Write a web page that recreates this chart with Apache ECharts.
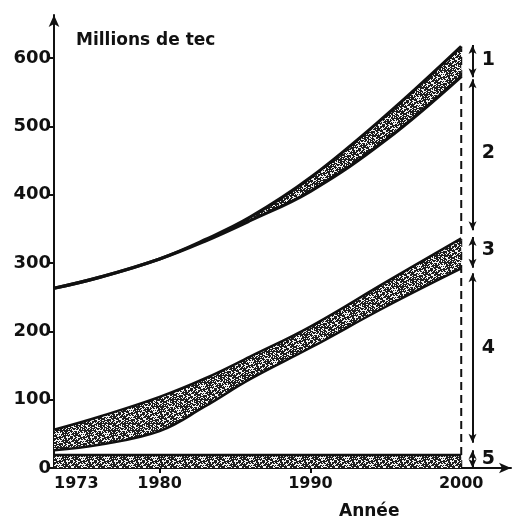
<!DOCTYPE html>
<html>
<head>
<meta charset="utf-8">
<script src="https://cdn.jsdelivr.net/npm/echarts@6/dist/echarts.min.js"></script>
<style>html,body{margin:0;padding:0;background:#fff;}#c{width:517px;height:518px;}</style>
</head>
<body>
<div id="c"></div>
<script>
// ---- data ----
const years = [1973, 1976, 1980, 1983, 1986, 1990, 1995, 2000];
const band5Top = [19, 19, 19, 19, 19, 19, 19, 19];
const band4Lower = [26, 34, 54, 90, 130, 176, 236, 292];
const band4Upper = [56, 75, 104, 131, 163, 207, 272, 336];
const band2Lower = [263, 279, 306, 332, 362, 405, 480, 573];
const band2Upper = [263, 279, 306, 334, 367, 425, 516, 617];
const yTicks = [0, 100, 200, 300, 400, 500, 600];
const xLabels = [1973, 1980, 1990, 2000];
const xTickMarks = [1980, 1990];
const arrowX = 2000.75;
const arrowSegs = [[572, 619], [348, 569], [293, 338], [37, 285], [0, 26]];
const labelX = 2001.8;
const labelItems = [['1', 597], ['2', 461], ['3', 319], ['4', 176], ['5', 13]];

// stipple texture (deterministic)
function makePattern() {
  const c = document.createElement('canvas');
  c.width = 24; c.height = 24;
  const g = c.getContext('2d');
  g.fillStyle = '#1e1e1e';
  g.fillRect(0, 0, 24, 24);
  g.fillStyle = '#f2f2f2';
  for (let i = 0; i < 24; i++) {
    for (let j = 0; j < 24; j++) {
      const h = (i * 73 + j * 151 + ((i * j) % 7) * 37) % 11;
      if (h < 4) g.fillRect(i, j, 1, 1);
    }
  }
  return { image: c, repeat: 'repeat' };
}
const pat = makePattern();

const pair = (xs, ys) => xs.map((x, i) => [x, ys[i]]);
// value first, year second (so that stacking applies to the y dimension)
const vy = (xs, ys) => xs.map((x, i) => [ys[i], x]);
const diff = (a, b) => a.map((v, i) => v - b[i]);

const font = '"DejaVu Sans", sans-serif';
const lineBlack = (w) => ({ color: '#111', width: w });
const enc = { x: 1, y: 0 };

const chart = echarts.init(document.getElementById('c'));
chart.setOption({
  animation: false,
  backgroundColor: '#fff',
  title: [
    { text: 'Millions de tec', left: 71, top: 27, textStyle: { fontFamily: font, fontWeight: 'bold', fontSize: 17, color: '#111' } },
    { text: 'Année', left: 334, top: 498, textStyle: { fontFamily: font, fontWeight: 'bold', fontSize: 17, color: '#111' } }
  ],
  grid: { left: 54, right: 6, top: 15, bottom: 50 },
  xAxis: {
    type: 'value', min: 1973, max: 2003.3,
    splitLine: { show: false },
    axisLine: { lineStyle: { color: '#111', width: 2 }, symbol: ['none', 'arrow'], symbolSize: [8, 12] },
    axisTick: { customValues: xTickMarks, length: 5, lineStyle: { color: '#111', width: 2 } },
    axisLabel: { customValues: xLabels, margin: 8, alignMinLabel: 'left', color: '#111', fontFamily: font, fontWeight: 'bold', fontSize: 16, formatter: v => String(v) }
  },
  yAxis: {
    type: 'value', min: 0, max: 663,
    splitLine: { show: false },
    axisLine: { lineStyle: { color: '#111', width: 2 }, symbol: ['none', 'arrow'], symbolSize: [8, 12] },
    axisTick: { customValues: yTicks, length: 5, lineStyle: { color: '#111', width: 2 } },
    axisLabel: { customValues: yTicks, margin: 3, color: '#111', fontFamily: font, fontWeight: 'bold', fontSize: 18 }
  },
  series: [
    {
      type: 'line', name: 'dash', z: 1, symbol: 'none',
      data: [[2000, 0], [2000, 617]],
      lineStyle: { color: '#111', width: 2, type: [8, 5] }
    },
    {
      type: 'line', name: 'b5', z: 3, symbol: 'none',
      data: pair(years, band5Top),
      lineStyle: lineBlack(2.5),
      areaStyle: { color: pat, opacity: 1 }
    },
    {
      type: 'line', name: 'b4low', stack: 'mid', z: 3, symbol: 'none', smooth: 0.4,
      encode: enc,
      data: vy(years, band4Lower),
      lineStyle: lineBlack(2.5)
    },
    {
      type: 'line', name: 'b4', stack: 'mid', z: 3, symbol: 'none', smooth: 0.4,
      encode: enc,
      data: vy(years, diff(band4Upper, band4Lower)),
      lineStyle: lineBlack(2.5),
      areaStyle: { color: pat, opacity: 1 }
    },
    {
      type: 'line', name: 'b2low', stack: 'top', z: 3, symbol: 'none', smooth: 0.4,
      encode: enc,
      data: vy(years, band2Lower),
      lineStyle: lineBlack(3.2)
    },
    {
      type: 'line', name: 'b2', stack: 'top', z: 3, symbol: 'none', smooth: 0.4,
      encode: enc,
      data: vy(years, diff(band2Upper, band2Lower)),
      lineStyle: lineBlack(3.2),
      areaStyle: { color: pat, opacity: 1 }
    },
    {
      type: 'scatter', name: 'labels', z: 5, symbolSize: 0.1,
      itemStyle: { color: '#111', opacity: 1 },
      data: labelItems.map(d => [labelX, d[1], d[0]]),
      label: { show: true, position: 'inside', formatter: p => p.value[2], color: '#111', fontFamily: font, fontWeight: 'bold', fontSize: 19 },
      markLine: {
        silent: true, symbol: ['arrow', 'arrow'], symbolSize: [6, 9],
        label: { show: false },
        lineStyle: { color: '#111', width: 2, type: 'solid' },
        data: arrowSegs.map(s => [{ coord: [arrowX, s[0]] }, { coord: [arrowX, s[1]] }])
      }
    }
  ]
});
</script>
</body>
</html>
